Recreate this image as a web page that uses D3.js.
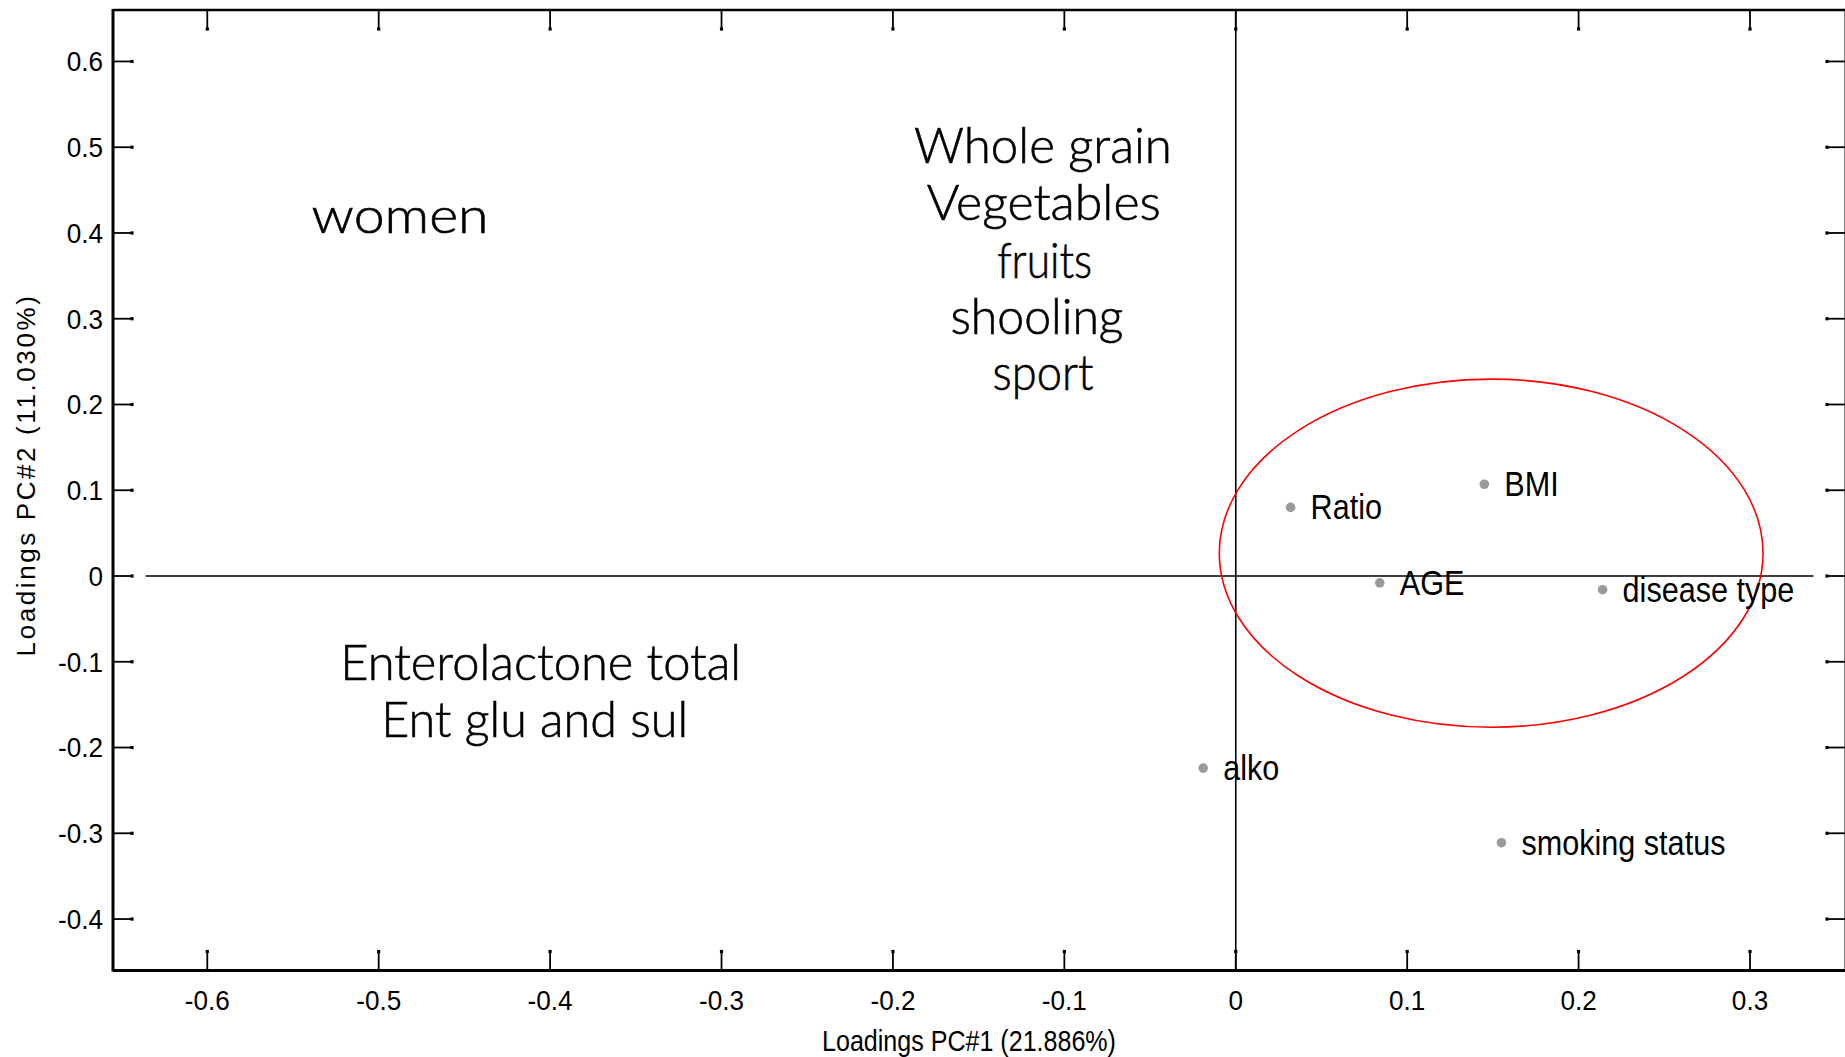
<!DOCTYPE html>
<html>
<head>
<meta charset="utf-8">
<script src="https://cdn.jsdelivr.net/npm/d3@7"></script>
<style>
  html, body { margin: 0; padding: 0; background: #fff; }
  svg { display: block; }
</style>
</head>
<body>
<script>
// PCA loadings: variable names and their loadings on PC#1 / PC#2
const variables = ["Ratio", "BMI", "AGE", "disease type", "alko", "smoking status"];
const loadingsPC1 = [0.032, 0.145, 0.084, 0.214, -0.019, 0.155];
const loadingsPC2 = [0.080, 0.107, -0.008, -0.016, -0.224, -0.311];

// Axis ticks and titles
const xTickValues = [-0.6, -0.5, -0.4, -0.3, -0.2, -0.1, 0, 0.1, 0.2, 0.3];
const yTickValues = [-0.4, -0.3, -0.2, -0.1, 0, 0.1, 0.2, 0.3, 0.4, 0.5, 0.6];
const xTitle = "Loadings PC#1 (21.886%)";
const yTitle = "Loadings PC#2 (11.030%)";

// Free-text annotations placed on the loadings plane
const annotationTexts = ["women", "Whole grain", "Vegetables", "fruits", "shooling", "sport",
                         "Enterolactone total", "Ent glu and sul"];
// Anchor (PC1, PC2) of each annotation line's baseline centre, and its drawn width in px
const annotationLayout = [
  { x: -0.4875, y: 0.400, w: 177 },
  { x: -0.1125, y: 0.4815, w: 258 },
  { x: -0.1120, y: 0.415, w: 234 },
  { x: -0.1115, y: 0.348, w: 95 },
  { x: -0.1160, y: 0.282, w: 173 },
  { x: -0.1125, y: 0.217, w: 101 },
  { x: -0.4055, y: -0.121, w: 401 },
  { x: -0.4090, y: -0.188, w: 307 }
];

// Highlight ellipse around the right-hand cluster (centre and semi-axes in loading units)
const clusterEllipse = { cx: 0.149, cy: 0.0266, rx: 0.1586, ry: 0.203 };

// Extent of the horizontal zero reference line
const zeroLineX = [-0.636, 0.337];

const W = 1845, H = 1057;
const svg = d3.select("body").append("svg").attr("width", W).attr("height", H);

const x = d3.scaleLinear().domain([-0.655, 0.356]).range([113, 1846]);
const y = d3.scaleLinear().domain([-0.46, 0.66]).range([970.5, 10]);

const [x0, x1] = x.range();
const [yB, yT] = y.range();

const baseFont = "'Liberation Sans', Arial, sans-serif";
const narrow = 0.85; // horizontal squeeze giving a condensed Arial look
const fmt = v => d3.format("")(v).replace("\u2212", "-");

// Zero reference lines
svg.append("line")
  .attr("x1", x(0)).attr("x2", x(0)).attr("y1", yT).attr("y2", yB)
  .attr("stroke", "#000").attr("stroke-width", 1.6);
svg.append("line")
  .attr("x1", x(zeroLineX[0])).attr("x2", x(zeroLineX[1])).attr("y1", y(0)).attr("y2", y(0))
  .attr("stroke", "#000").attr("stroke-width", 1.6);

// Frame
const frame = svg.append("g").attr("stroke", "#000").attr("fill", "none");
frame.append("line").attr("x1", x0).attr("x2", x0).attr("y1", yT - 1).attr("y2", yB + 1).attr("stroke-width", 3);
frame.append("line").attr("x1", x0).attr("x2", x1).attr("y1", yT).attr("y2", yT).attr("stroke-width", 2.5);
frame.append("line").attr("x1", x0).attr("x2", x1).attr("y1", yB).attr("y2", yB).attr("stroke-width", 3);
frame.append("line").attr("x1", x1).attr("x2", x1).attr("y1", yT).attr("y2", yB).attr("stroke-width", 3);

// Inward ticks with small square caps on all four sides
const tickLen = 19;
const ticks = svg.append("g");
function drawTick(xa, ya, xb, yb) {
  ticks.append("line").attr("x1", xa).attr("y1", ya).attr("x2", xb).attr("y2", yb)
    .attr("stroke", "#000").attr("stroke-width", 1.8);
  ticks.append("rect").attr("x", xb - 1.6).attr("y", yb - 1.6).attr("width", 3.2).attr("height", 3.2)
    .attr("fill", "#000");
}
xTickValues.forEach(v => {
  drawTick(x(v), yT, x(v), yT + tickLen);
  drawTick(x(v), yB, x(v), yB - tickLen);
});
yTickValues.forEach(v => {
  drawTick(x0, y(v), x0 + tickLen, y(v));
  drawTick(x1, y(v), x1 - tickLen, y(v));
});

// Tick labels
svg.append("g").selectAll("text").data(xTickValues).join("text")
  .attr("transform", d => `translate(${x(d)},1009.5) scale(0.95,1)`)
  .attr("text-anchor", "middle")
  .attr("font-family", baseFont).attr("font-size", 27.5).attr("fill", "#000")
  .text(fmt);
svg.append("g").selectAll("text").data(yTickValues).join("text")
  .attr("transform", d => `translate(103,${y(d) + 9.8}) scale(0.95,1)`)
  .attr("text-anchor", "end")
  .attr("font-family", baseFont).attr("font-size", 27.5).attr("fill", "#000")
  .text(fmt);

// Axis titles
svg.append("text")
  .attr("transform", `translate(969,1051) scale(${narrow},1)`)
  .attr("text-anchor", "middle")
  .attr("font-family", baseFont).attr("font-size", 29.5).attr("fill", "#000")
  .text(xTitle);
svg.append("text")
  .attr("transform", "translate(35,475) rotate(-90)")
  .attr("text-anchor", "middle")
  .attr("font-family", baseFont).attr("font-size", 26).attr("letter-spacing", 2.6).attr("fill", "#000")
  .text(yTitle);

// Annotations
svg.append("g").selectAll("text").data(annotationTexts).join("text")
  .attr("x", (d, i) => x(annotationLayout[i].x))
  .attr("y", (d, i) => y(annotationLayout[i].y))
  .attr("text-anchor", "middle")
  .attr("font-family", "Lato, 'Open Sans', sans-serif").attr("font-weight", 300)
  .attr("font-size", 49).attr("fill", "#000")
  .attr("stroke", "#000").attr("stroke-width", 0.6)
  .attr("textLength", (d, i) => annotationLayout[i].w)
  .attr("lengthAdjust", "spacingAndGlyphs")
  .text(d => d);

// Cluster ellipse
svg.append("ellipse")
  .attr("cx", x(clusterEllipse.cx)).attr("cy", y(clusterEllipse.cy))
  .attr("rx", x(clusterEllipse.rx) - x(0)).attr("ry", y(0) - y(clusterEllipse.ry))
  .attr("fill", "none").attr("stroke", "#ff0000").attr("stroke-width", 1.6);

// Loading points and their labels
const pts = variables.map((name, i) => ({ name, pc1: loadingsPC1[i], pc2: loadingsPC2[i] }));
const g = svg.append("g");
g.selectAll("circle").data(pts).join("circle")
  .attr("cx", d => x(d.pc1)).attr("cy", d => y(d.pc2)).attr("r", 4.8)
  .attr("fill", "#9a9a9a");
g.selectAll("text").data(pts).join("text")
  .attr("transform", d => `translate(${x(d.pc1) + 20},${y(d.pc2) + 12}) scale(${narrow},1)`)
  .attr("font-family", baseFont).attr("font-size", 36).attr("fill", "#000")
  .text(d => d.name);
</script>
</body>
</html>
